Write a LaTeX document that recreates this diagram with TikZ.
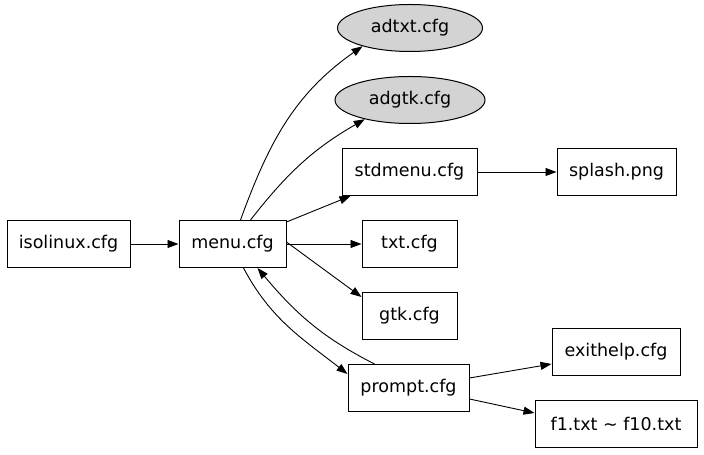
\documentclass[tikz,border=0pt]{standalone}
\usepackage{fontspec}
\setmainfont{DejaVu Sans}
\usetikzlibrary{shapes.geometric,arrows.meta}
\definecolor{nodegray}{RGB}{211,211,211}
\begin{document}
\begin{tikzpicture}[x=1pt,y=1pt,
    every node/.style={minimum height=47pt,font=\fontsize{17.5}{21}\selectfont,text centered,draw,line width=1pt,inner sep=0pt},
    ellnode/.style={ellipse,fill=nodegray},
    edge/.style={->,line width=0.9pt},
    >={Triangle[length=11pt,width=8pt]}
    ]
    \useasboundingbox (0,0) rectangle (704,455);

    \node[minimum width=123pt] (isolinux) at (68.5,211) {isolinux.cfg};
    \node[minimum width=107pt] (menu) at (232.5,211) {menu.cfg};
    \node[ellnode,minimum width=145pt] (adtxt) at (410,427) {adtxt.cfg};
    \node[ellnode,minimum width=150pt] (adgtk) at (410,355) {adgtk.cfg};
    \node[minimum width=135pt] (stdmenu) at (409.5,283) {stdmenu.cfg};
    \node[minimum width=119pt] (splash) at (616.5,283) {splash.png};
    \node[minimum width=95pt] (txt) at (409.5,211) {txt.cfg};
    \node[minimum width=95pt] (gtk) at (409.5,139) {gtk.cfg};
    \node[minimum width=121pt] (prompt) at (408.5,67) {prompt.cfg};
    \node[minimum width=128pt] (exithelp) at (616,103) {exithelp.cfg};
    \node[minimum width=162pt] (ftxt) at (616,31) {f1.txt \char"223C{} f10.txt};

    \draw[edge] (isolinux) -- (menu);
    \draw[edge] ([xshift=8pt]menu.north) to[out=70,in=215] (adtxt.201);
    \draw[edge] ([xshift=18pt]menu.north) to[out=52,in=210] (adgtk.203);
    \draw[edge] ([yshift=-2pt]menu.north east) -- ([xshift=9pt]stdmenu.south west);
    \draw[edge] (menu) -- (txt);
    \draw[edge] ([yshift=-22pt]menu.north east) -- ([yshift=-5pt]gtk.north west);
    \draw[edge] ([xshift=11pt]menu.south) to[out=-62,in=142] ([yshift=-10pt]prompt.north west);
    \draw[edge] ([xshift=-34pt]prompt.north) to[out=153,in=310] ([xshift=25pt]menu.south);
    \draw[edge] (stdmenu) -- (splash);
    \draw[edge] ([yshift=10pt]prompt.east) -- ([yshift=-12pt]exithelp.west);
    \draw[edge] ([yshift=-11pt]prompt.east) -- ([yshift=11pt]ftxt.west);
  \end{tikzpicture}
\end{document}
